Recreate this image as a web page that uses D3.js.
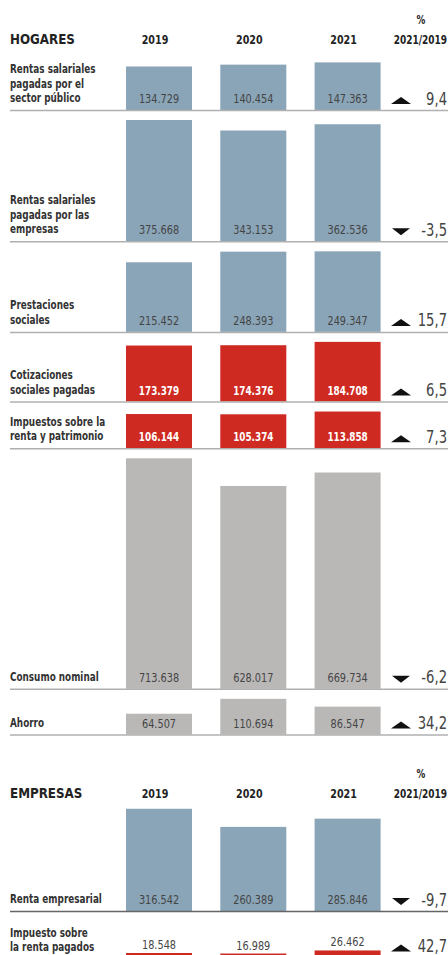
<!DOCTYPE html>
<html><head><meta charset="utf-8">
<script src="https://cdn.jsdelivr.net/npm/d3@7"></script>
<style>
html,body{margin:0;padding:0;background:#fff;}
svg{display:block;}
text{font-family:"DejaVu Sans Condensed","DejaVu Sans",sans-serif;}
</style></head>
<body>
<svg id="chart" width="448" height="955"></svg>
<script>
const years = ["2019", "2020", "2021"];
const pctHeader = ["%", "2021/2019"];

const hogaresLabels = [
  ["Rentas salariales", "pagadas por el", "sector público"],
  ["Rentas salariales", "pagadas por las", "empresas"],
  ["Prestaciones", "sociales"],
  ["Cotizaciones", "sociales pagadas"],
  ["Impuestos sobre la", "renta y patrimonio"],
  ["Consumo nominal"],
  ["Ahorro"]
];
const hogaresValues = [
  [134.729, 140.454, 147.363],
  [375.668, 343.153, 362.536],
  [215.452, 248.393, 249.347],
  [173.379, 174.376, 184.708],
  [106.144, 105.374, 113.858],
  [713.638, 628.017, 669.734],
  [64.507, 110.694, 86.547]
];
const hogaresPct = [9.4, -3.5, 15.7, 6.5, 7.3, -6.2, 34.2];
const hogaresKind = ["ingreso", "ingreso", "ingreso", "pago", "pago", "uso", "uso"];

const empresasLabels = [
  ["Renta empresarial"],
  ["Impuesto sobre", "la renta pagados"]
];
const empresasValues = [
  [316.542, 260.389, 285.846],
  [18.548, 16.989, 26.462]
];
const empresasPct = [-9.7, 42.7];
const empresasKind = ["ingreso", "pago"];

const colors = {ingreso: "#8aa5b7", pago: "#cf2a22", uso: "#b9b8b7"};
const fmtVal = v => v.toFixed(3);
const fmtPct = v => v.toFixed(1).replace(".", ",");

const svg = d3.select("#chart");
const x = d3.scaleBand().domain(years).range([126, 380.6]).paddingInner(0.3).paddingOuter(0);
const h = d3.scaleLinear().domain([0, 1000]).range([0, 323]);

function txt(g, x0, y0, s, opts) {
  return g.append("text")
    .attr("transform", `translate(${x0},${y0}) scale(${opts.sx || 1},1)`)
    .attr("text-anchor", opts.anchor || "start")
    .attr("font-size", opts.size || 12)
    .attr("font-weight", opts.weight || "normal")
    .attr("fill", opts.fill || "#333")
    .text(s);
}

function header(title, yBase) {
  const g = svg.append("g");
  txt(g, 10, yBase, title, {size: 13.5, weight: "bold", fill: "#222", sx: 0.98});
  years.forEach(d => {
    txt(g, x(d) + x.bandwidth() / 2 - 4, yBase, d, {anchor: "middle", size: 12.5, weight: "bold", fill: "#222", sx: 0.85});
  });
  txt(g, 421, yBase - 20, pctHeader[0], {anchor: "middle", size: 11.5, weight: "bold", fill: "#222", sx: 0.85});
  txt(g, 447, yBase, pctHeader[1], {anchor: "end", size: 12.5, weight: "bold", fill: "#222", sx: 0.8});
}

function row(labels, values, pct, kind, base, above, darkLine, pctLift) {
  const g = svg.append("g");
  const col = colors[kind];
  g.selectAll("rect").data(values).join("rect")
    .attr("x", (d, i) => x(years[i])).attr("width", x.bandwidth())
    .attr("y", d => base - h(d)).attr("height", d => h(d))
    .attr("fill", col);
  values.forEach((d, i) => {
    const onRed = kind === "pago" && !above;
    txt(g, x(years[i]) + x.bandwidth() / 2, above ? base - h(d) - 4 : base - 7, fmtVal(d), {
      anchor: "middle", size: 12, weight: onRed ? "bold" : "normal",
      fill: onRed ? "#fff" : "#444", sx: onRed ? 0.82 : 0.9
    });
  });
  const lh = 14.5;
  labels.forEach((t, i) => {
    txt(g, 10, base - 8 - (labels.length - 1 - i) * lh, t, {size: 12.3, weight: "bold", fill: "#333", sx: 0.8});
  });
  const lift = pctLift || 0;
  const ty = base - 6 - lift;
  const tri = pct >= 0
    ? `M391,${ty} L411,${ty} L401,${ty - 7} Z`
    : `M392,${ty - 7} L410,${ty - 7} L401,${ty} Z`;
  g.append("path").attr("d", tri).attr("fill", "#111");
  txt(g, 447, base - 5.5 - lift, fmtPct(pct), {anchor: "end", size: 17, fill: "#444", sx: 0.86});
  g.append("line").attr("x1", 10).attr("x2", 448).attr("y1", base + 0.5).attr("y2", base + 0.5)
    .attr("stroke", darkLine ? "#666" : "#b0b0b0").attr("stroke-width", 1.5);
}

header("HOGARES", 44);
let base = 110;
hogaresValues.forEach((vals, i) => {
  if (i > 0) base += h(d3.max(vals)) + 10;
  row(hogaresLabels[i], vals, hogaresPct[i], hogaresKind[i], base, false, false, 0);
});

header("EMPRESAS", 798);
row(empresasLabels[0], empresasValues[0], empresasPct[0], empresasKind[0], 911, false, true, 0);
row(empresasLabels[1], empresasValues[1], empresasPct[1], empresasKind[1], 959, true, false, 1.5);
</script>
</body></html>
